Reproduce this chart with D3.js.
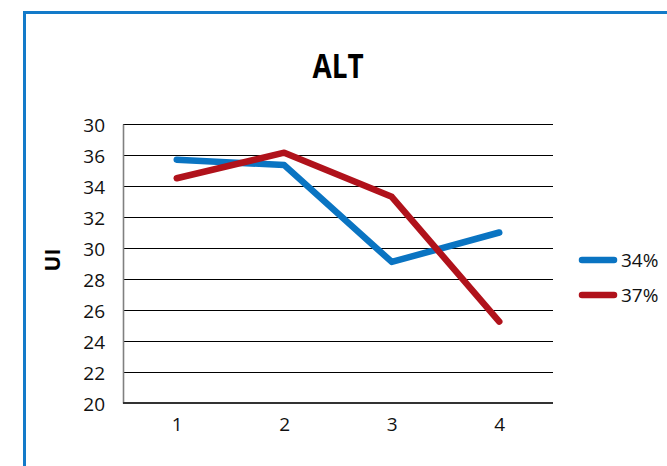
<!DOCTYPE html>
<html>
<head>
<meta charset="utf-8">
<script src="https://cdn.jsdelivr.net/npm/d3@7"></script>
<style>
  html, body { margin: 0; padding: 0; background: #fff; }
  svg { display: block; }
</style>
</head>
<body>
<svg id="chart" width="667" height="466"></svg>
<script>
const categories = ["1", "2", "3", "4"];
const seriesNames = ["34%", "37%"];
const series34 = [35.7, 35.35, 29.1, 31.0];
const series37 = [34.5, 36.15, 33.3, 25.25];
const yTickValues = [20, 22, 24, 26, 28, 30, 32, 34, 36, 38];
const yTickLabels = ["20", "22", "24", "26", "28", "30", "32", "34", "36", "30"];
const seriesColors = ["#0A74C2", "#B0121B"];

const svg = d3.select("#chart");
const font = "'Open Sans', 'Noto Sans', sans-serif";

// outer frame
svg.append("rect")
  .attr("x", 24.5).attr("y", 12.5)
  .attr("width", 700).attr("height", 500)
  .attr("fill", "none")
  .attr("stroke", "#137AC9")
  .attr("stroke-width", 3);

const plotLeft = 123, plotRight = 553, plotTop = 124, plotBottom = 403;

const x = d3.scalePoint().domain(categories).range([plotLeft, plotRight]).padding(0.5);
const y = d3.scaleLinear().domain([20, 38]).range([plotBottom, plotTop]);

// gridlines
const grid = d3.axisLeft(y).tickValues(yTickValues).tickSize(-(plotRight - plotLeft)).tickFormat("");
const gg = svg.append("g").attr("transform", `translate(${plotLeft},0)`).call(grid);
gg.select(".domain").remove();
gg.selectAll(".tick line").attr("stroke", "#000").attr("stroke-width", 1.2);

// y axis line + labels
const yAxis = d3.axisLeft(y).tickValues(yTickValues).tickSize(0).tickPadding(18)
  .tickFormat((d, i) => yTickLabels[i]);
const ya = svg.append("g").attr("transform", `translate(${plotLeft},0)`).call(yAxis);
ya.select(".domain").attr("stroke", "#808080").attr("stroke-width", 1.6);
ya.selectAll(".tick text")
  .attr("font-family", font).attr("font-size", 19).attr("fill", "#111")
  .attr("dy", "0.42em");

// x axis
const xAxis = d3.axisBottom(x).tickSize(0).tickPadding(15);
const xa = svg.append("g").attr("transform", `translate(0,${plotBottom})`).call(xAxis);
xa.select(".domain").attr("d", `M${plotLeft},0H${plotRight}`).attr("stroke", "#333").attr("stroke-width", 2);
xa.selectAll(".tick text")
  .attr("font-family", font).attr("font-size", 19).attr("fill", "#111");

// lines
const line = d3.line().x((d, i) => x(categories[i])).y(d => y(d));
[series34, series37].forEach((s, k) => {
  svg.append("path")
    .datum(s)
    .attr("d", line)
    .attr("fill", "none")
    .attr("stroke", seriesColors[k])
    .attr("stroke-width", 6.5)
    .attr("stroke-linecap", "round")
    .attr("stroke-linejoin", "round");
});

// title
svg.append("text")
  .attr("transform", "translate(338,78) scale(0.82,1)")
  .attr("text-anchor", "middle")
  .attr("font-family", font).attr("font-weight", 700).attr("font-size", 34)
  .attr("fill", "#000")
  .text("ALT");

// y axis title
svg.append("text")
  .attr("transform", "translate(60,260) rotate(-90)")
  .attr("text-anchor", "middle")
  .attr("font-family", font).attr("font-weight", 700).attr("font-size", 21)
  .attr("fill", "#000")
  .text("UI");

// legend
const legY = [260, 295];
seriesNames.forEach((name, k) => {
  svg.append("line")
    .attr("x1", 582).attr("x2", 614)
    .attr("y1", legY[k]).attr("y2", legY[k])
    .attr("stroke", seriesColors[k]).attr("stroke-width", 6.5)
    .attr("stroke-linecap", "round");
  svg.append("text")
    .attr("x", 621).attr("y", legY[k]).attr("dy", "0.36em")
    .attr("font-family", font).attr("font-size", 19).attr("fill", "#111")
    .text(name);
});
</script>
</body>
</html>
